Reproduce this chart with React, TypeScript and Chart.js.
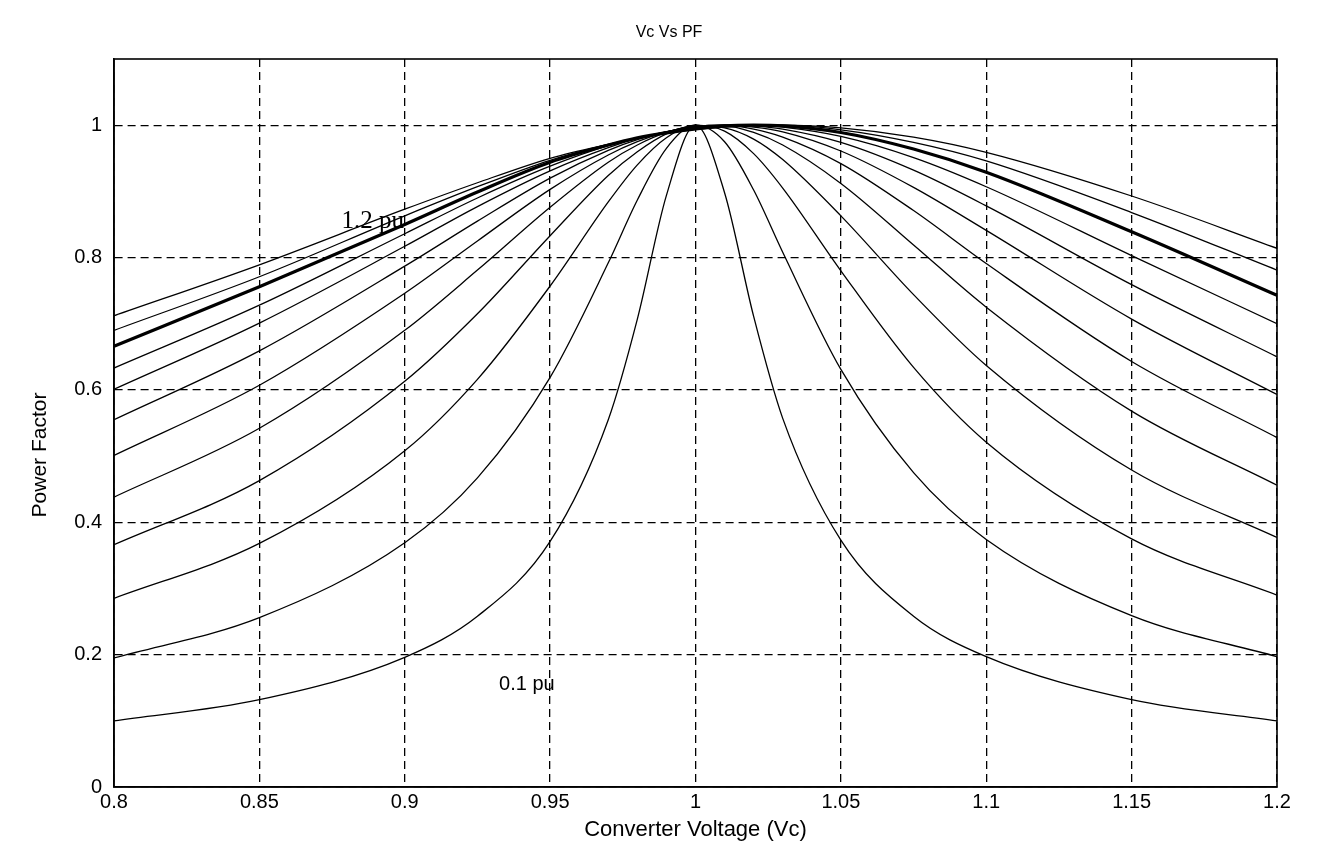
import { useEffect, useRef } from "react";
import { Chart, registerables } from "chart.js";

Chart.register(...registerables);

// Converter voltage samples (x)
const voltages = [0.8, 0.85, 0.9, 0.925, 0.95, 0.97, 0.98, 0.99, 1.0, 1.01, 1.02, 1.03, 1.05, 1.075, 1.1, 1.15, 1.2];

// Power factor curves for loads 0.1 pu ... 1.2 pu
const pf01 = [0.100, 0.132, 0.196, 0.258, 0.371, 0.555, 0.707, 0.894, 1.000, 0.898, 0.711, 0.557, 0.373, 0.258, 0.197, 0.132, 0.100];
const pf02 = [0.195, 0.256, 0.369, 0.467, 0.619, 0.792, 0.887, 0.965, 1.000, 0.975, 0.902, 0.808, 0.631, 0.475, 0.374, 0.259, 0.197];
const pf03 = [0.285, 0.368, 0.508, 0.616, 0.757, 0.884, 0.940, 0.981, 1.000, 0.991, 0.957, 0.905, 0.780, 0.634, 0.521, 0.375, 0.290];
const pf04 = [0.366, 0.463, 0.613, 0.715, 0.833, 0.924, 0.960, 0.987, 0.999, 0.996, 0.979, 0.948, 0.863, 0.744, 0.637, 0.479, 0.377];
const pf05 = [0.438, 0.542, 0.690, 0.781, 0.876, 0.944, 0.970, 0.989, 0.999, 0.999, 0.989, 0.970, 0.912, 0.819, 0.725, 0.568, 0.456];
const pf06 = [0.501, 0.607, 0.746, 0.825, 0.903, 0.955, 0.975, 0.990, 0.998, 1.000, 0.994, 0.982, 0.942, 0.871, 0.791, 0.643, 0.528];
const pf07 = [0.555, 0.659, 0.787, 0.855, 0.920, 0.962, 0.978, 0.990, 0.998, 1.000, 0.997, 0.990, 0.961, 0.906, 0.841, 0.707, 0.593];
const pf08 = [0.601, 0.701, 0.817, 0.877, 0.931, 0.966, 0.980, 0.990, 0.997, 1.000, 0.999, 0.994, 0.974, 0.932, 0.878, 0.759, 0.650];
const pf09 = [0.633, 0.728, 0.836, 0.890, 0.938, 0.969, 0.980, 0.990, 0.996, 0.999, 1.000, 0.997, 0.983, 0.951, 0.907, 0.803, 0.700];
const pf10 = [0.666, 0.756, 0.850, 0.899, 0.944, 0.970, 0.981, 0.989, 0.995, 0.999, 1.000, 0.999, 0.989, 0.964, 0.929, 0.839, 0.743];
const pf11 = [0.690, 0.771, 0.863, 0.907, 0.947, 0.971, 0.980, 0.988, 0.994, 0.998, 1.000, 1.000, 0.993, 0.974, 0.946, 0.868, 0.781];
const pf12 = [0.712, 0.789, 0.873, 0.913, 0.950, 0.971, 0.980, 0.987, 0.993, 0.997, 0.999, 1.000, 0.996, 0.982, 0.959, 0.893, 0.814];

const seriesNames = ["0.1 pu", "0.2 pu", "0.3 pu", "0.4 pu", "0.5 pu", "0.6 pu", "0.7 pu", "0.8 pu", "0.9 pu", "1.0 pu", "1.1 pu", "1.2 pu"];
const seriesValues = [pf01, pf02, pf03, pf04, pf05, pf06, pf07, pf08, pf09, pf10, pf11, pf12];
const thickSeries = "1.0 pu";

const xTickValues = [0.8, 0.85, 0.9, 0.95, 1.0, 1.05, 1.1, 1.15, 1.2];
const xTickLabels = ["0.8", "0.85", "0.9", "0.95", "1", "1.05", "1.1", "1.15", "1.2"];
const yTickValues = [0, 0.2, 0.4, 0.6, 0.8, 1.0];
const yTickLabels = ["0", "0.2", "0.4", "0.6", "0.8", "1"];

const chartTitle = "Vc Vs PF";
const xAxisTitle = "Converter Voltage (Vc)";
const yAxisTitle = "Power Factor";

const noteTexts = ["1.2 pu", "0.1 pu"];
const noteX = [0.889, 0.942];
const noteY = [0.855, 0.155];

const FONT = "'Liberation Sans', Arial, sans-serif";

const decorPlugin = {
  id: "frameTitlesNotes",
  afterDraw(chart: any) {
    const { ctx, chartArea: a, scales } = chart;
    ctx.save();
    ctx.setLineDash([]);
    ctx.strokeStyle = "#000";
    ctx.lineWidth = 1.6;
    ctx.strokeRect(a.left, a.top, a.right - a.left, a.bottom - a.top);
    ctx.fillStyle = "#000";
    ctx.textAlign = "center";
    ctx.textBaseline = "middle";
    // annotations
    noteTexts.forEach((t, i) => {
      ctx.font = i === 0 ? "25px 'Liberation Serif', serif" : `20px ${FONT}`;
      ctx.fillText(t, scales.x.getPixelForValue(noteX[i]), scales.y.getPixelForValue(noteY[i]));
    });
    // titles
    ctx.font = `16px ${FONT}`;
    ctx.fillText(chartTitle, 661, 25);
    ctx.font = `22px ${FONT}`;
    ctx.fillText(xAxisTitle, (a.left + a.right) / 2, 822);
    ctx.font = `21px ${FONT}`;
    ctx.translate(32, 447);
    ctx.rotate(-Math.PI / 2);
    ctx.fillText(yAxisTitle, 0, 0);
    ctx.restore();
  },
};

export default function App() {
  const ref = useRef<HTMLCanvasElement>(null);
  useEffect(() => {
    const datasets = seriesNames.map((name, i) => ({
      label: name,
      data: voltages.map((v, j) => ({ x: v, y: seriesValues[i][j] })),
      borderColor: "#000",
      borderWidth: name === thickSeries ? 3.2 : 1.3,
      pointRadius: 0,
      fill: false,
      cubicInterpolationMode: "monotone" as const,
    }));
    const chart = new Chart(ref.current!, {
      type: "line",
      data: { datasets },
      plugins: [decorPlugin],
      options: {
        animation: false,
        responsive: true,
        maintainAspectRatio: false,
        layout: { padding: { left: 0, right: 34, top: 51, bottom: 0 } },
        plugins: {
          legend: { display: false },
          tooltip: { enabled: false },
          title: { display: false },
        },
        scales: {
          x: {
            type: "linear",
            min: 0.8,
            max: 1.2,
            afterBuildTicks: (scale: any) => {
              scale.ticks = xTickValues.map((v) => ({ value: v }));
            },
            afterFit: (scale: any) => {
              scale.height = 61;
            },
            ticks: {
              color: "#000",
              font: { family: FONT, size: 20 },
              padding: 3,
              maxRotation: 0,
              autoSkip: false,
              callback: (value: any) => {
                const i = xTickValues.findIndex((v) => Math.abs(v - Number(value)) < 1e-6);
                return i >= 0 ? xTickLabels[i] : "";
              },
            },
            grid: { color: "#000", lineWidth: 1.3, drawTicks: false },
            border: { display: true, color: "#000", width: 1.6, dash: [8, 5] },
          },
          y: {
            type: "linear",
            min: 0,
            max: 1.1,
            afterBuildTicks: (scale: any) => {
              scale.ticks = yTickValues.map((v) => ({ value: v }));
            },
            afterFit: (scale: any) => {
              scale.width = 106;
            },
            ticks: {
              color: "#000",
              font: { family: FONT, size: 20 },
              padding: 12,
              autoSkip: false,
              callback: (value: any) => {
                const i = yTickValues.findIndex((v) => Math.abs(v - Number(value)) < 1e-6);
                return i >= 0 ? yTickLabels[i] : "";
              },
            },
            grid: { color: "#000", lineWidth: 1.3, drawTicks: false },
            border: { display: true, color: "#000", width: 1.6, dash: [8, 5] },
          },
        },
      },
    });
    return () => chart.destroy();
  }, []);
  return (
    <div style={{ width: 1303, height: 840, position: "relative" }}>
      <canvas ref={ref} />
    </div>
  );
}
